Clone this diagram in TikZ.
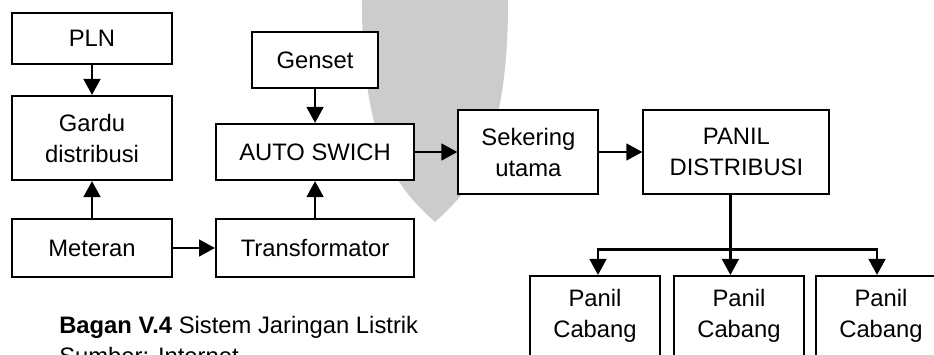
\documentclass[tikz,border=0pt]{standalone}
\usepackage{fontspec}
\setmainfont{Liberation Sans}
\usetikzlibrary{arrows.meta}

\begin{document}
\begin{tikzpicture}[>={Triangle[length=12pt,width=12.5pt]},
  block/.style={draw, line width=1.6pt, fill=white, inner sep=0pt, align=center,
    font=\fontsize{17.85pt}{23.25pt}\selectfont},
  link/.style={->, line width=2pt}]

  \useasboundingbox (0,0) rectangle (700.5pt,-265.5pt);
  \clip (0,0) rectangle (700.5pt,-265.5pt);

  % Watermark drop
  \begin{scope}[x=0.75pt, y=-0.75pt]
    \fill[gray!40] (362,-10) .. controls (360,150) and (400,190) .. (435,222)
      .. controls (470,190) and (510,150) .. (508,-10) -- cycle;
  \end{scope}

  % Left column
  \node[block, minimum width=120pt, minimum height=38pt] (PLN) at (69pt,-28.9pt) {PLN};
  \node[block, below of=PLN, node distance=74.6pt, minimum width=120pt, minimum height=63pt] (Gardu) {Gardu\\distribusi};
  \node[block, below of=Gardu, node distance=82.5pt, minimum width=120pt, minimum height=43.5pt] (Meteran) {Meteran};

  % Middle column
  \node[block, right of=Meteran, node distance=167.3pt, minimum width=148.5pt, minimum height=43.5pt] (Trafo) {Transformator};
  \node[block, above of=Trafo, node distance=72pt, minimum width=148.5pt, minimum height=42pt] (Auto) {AUTO SWICH};
  \node[block, above of=Auto, node distance=69pt, minimum width=95pt, minimum height=42pt] (Genset) {Genset};

  % Right side
  \node[block, right of=Auto, node distance=160pt, minimum width=105pt, minimum height=63pt] (Sekering) {Sekering\\utama};
  \node[block, right of=Sekering, node distance=156pt, minimum width=139.5pt, minimum height=63pt] (Panil) {PANIL\\DISTRIBUSI};

  % Branch panels
  \node[block, minimum width=97.5pt, minimum height=60pt] (Cabang1) at (446.25pt,-237pt) {Panil\\Cabang};
  \node[block, right of=Cabang1, node distance=108pt, minimum width=97.5pt, minimum height=60pt] (Cabang2) {Panil\\Cabang};
  \node[block, right of=Cabang2, node distance=106.5pt, minimum width=97.5pt, minimum height=60pt] (Cabang3) {Panil\\Cabang};

  % Connectors
  \draw[link] (PLN) -- (Gardu);
  \draw[link] (Meteran) -- (Gardu);
  \draw[link] (Meteran) -- (Trafo);
  \draw[link] (Trafo) -- (Auto);
  \draw[link] (Genset) -- (Auto);
  \draw[link] (Auto) -- (Sekering);
  \draw[link] (Sekering) -- (Panil);

  % Branching
  \coordinate (split) at ([xshift=-4.5pt, yshift=-41pt]Panil.south);
  \draw[line width=2pt] ([xshift=-4.5pt]Panil.south) -- (split);
  \draw[link] (split) -- (split |- Cabang2.north);
  \draw[link] (split) -| ([xshift=2.25pt]Cabang1.north);
  \draw[link] (split) -| ([xshift=-3pt]Cabang3.north);

  % Caption
  \node[anchor=base west, inner sep=0pt, font=\fontsize{17.85pt}{23.25pt}\selectfont] (caption) at (44.25pt,-249.75pt) {\textbf{Bagan V.4} Sistem Jaringan Listrik};
  \node[anchor=base west, inner sep=0pt, font=\fontsize{17.85pt}{23.25pt}\selectfont] (source) at ([yshift=-23.25pt]caption.base west) {Sumber: Internet};

\end{tikzpicture}
\end{document}
